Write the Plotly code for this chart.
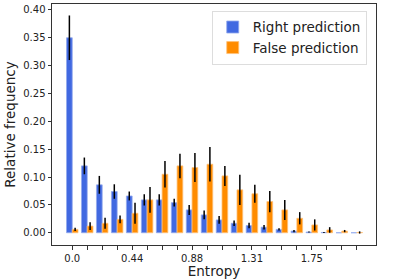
import numpy as np
import plotly.graph_objects as go

# Entropy bin positions (20 bins from 0 to ln(8))
entropy = list(np.linspace(0, np.log(8), 20))
tick_labels = ["0.0", "", "", "", "0.44", "", "", "", "0.88", "", "", "",
               "1.31", "", "", "", "1.75", "", "", ""]

right_vals = [0.350, 0.120, 0.086, 0.074, 0.066, 0.059, 0.059, 0.054, 0.041, 0.032,
              0.023, 0.017, 0.013, 0.010, 0.006, 0.003, 0.0013, 0.0005, 0.0, 0.0]
right_err = [0.040, 0.015, 0.016, 0.013, 0.008, 0.010, 0.010, 0.007, 0.009, 0.008,
             0.007, 0.005, 0.005, 0.004, 0.002, 0.002, 0.001, 0.001, 0.0, 0.0]
false_vals = [0.006, 0.012, 0.017, 0.024, 0.035, 0.059, 0.105, 0.120, 0.117, 0.123,
              0.102, 0.077, 0.070, 0.056, 0.041, 0.026, 0.014, 0.005, 0.003, 0.0005]
false_err = [0.003, 0.007, 0.010, 0.007, 0.019, 0.023, 0.024, 0.022, 0.026, 0.031,
             0.018, 0.027, 0.016, 0.019, 0.018, 0.011, 0.010, 0.005, 0.002, 0.002]

W = 0.042

fig = go.Figure()
fig.add_trace(go.Bar(
    x=entropy, y=right_vals, name="Right prediction",
    width=W, offset=-W,
    marker=dict(color="#4169E1", line=dict(color="#93a9ee", width=0.8)),
    error_y=dict(type="data", array=right_err, color="black", thickness=1.5, width=0),
))
fig.add_trace(go.Bar(
    x=entropy, y=false_vals, name="False prediction",
    width=W, offset=0,
    marker=dict(color="#FF8C00", line=dict(color="#ffc27a", width=0.8)),
    error_y=dict(type="data", array=false_err, color="black", thickness=1.5, width=0),
))

axis_common = dict(
    showline=True, linecolor="#333", linewidth=1, mirror=True,
    ticks="outside", ticklen=3.5, tickcolor="#333", tickwidth=1,
    showgrid=False, zeroline=False,
    tickfont=dict(family="DejaVu Sans", size=10, color="#222"),
)

fig.update_layout(
    width=415, height=279,
    margin=dict(l=52, r=39, t=4, b=34),
    paper_bgcolor="white", plot_bgcolor="white",
    barmode="overlay",
    showlegend=True,
    legend=dict(
        x=0.493, y=0.972, xanchor="left", yanchor="top",
        bgcolor="white", bordercolor="#dddddd", borderwidth=1,
        font=dict(family="DejaVu Sans", size=13.5, color="#222"),
        tracegroupgap=0, itemwidth=30,
    ),
    xaxis=dict(
        axis_common,
        range=[-0.148, 2.220],
        tickmode="array", tickvals=entropy, ticktext=tick_labels,
        title=dict(text="Entropy", font=dict(family="DejaVu Sans", size=13.5, color="#222"), standoff=2),
    ),
    yaxis=dict(
        axis_common,
        range=[-0.022, 0.4106],
        tickmode="array",
        tickvals=[0.0, 0.05, 0.10, 0.15, 0.20, 0.25, 0.30, 0.35, 0.40],
        tickformat=".2f",
        title=dict(text="Relative frequency", font=dict(family="DejaVu Sans", size=13.5, color="#222"), standoff=4),
    ),
)

fig.write_html("out.html", config={"displayModeBar": False},
               post_script="document.body.style.margin='0';")
